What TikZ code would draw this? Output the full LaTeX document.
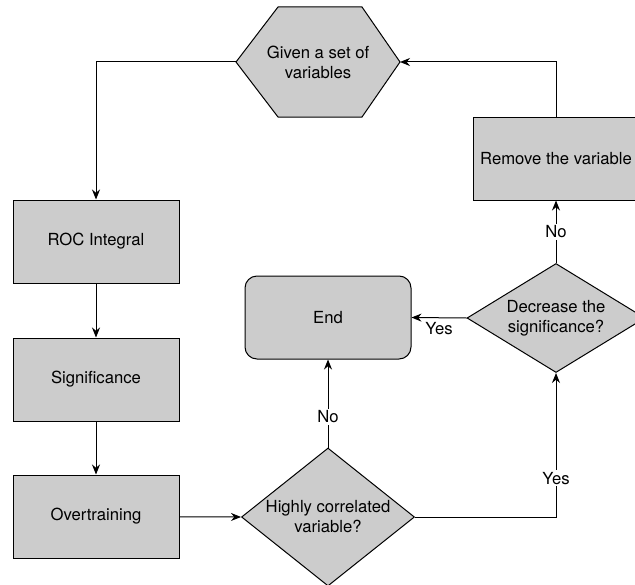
\documentclass[tikz,border=0pt]{standalone}
\usepackage{fontspec}
\setmainfont{TeX Gyre Heros}
\usetikzlibrary{shapes.geometric,arrows.meta}
\definecolor{boxgray}{HTML}{CCCCCC}

\begin{document}
\begin{tikzpicture}[
    x=0.75pt, y=-0.75pt,
    every node/.style={font=\fontsize{12.5}{15}\selectfont},
    box/.style={draw, fill=boxgray, line width=0.75pt, minimum width=124.5pt, minimum height=62.25pt, align=center},
    endbox/.style={box, rounded corners=9pt},
    decision/.style={draw, fill=boxgray, line width=0.75pt, diamond, inner sep=0pt, align=center},
    arrow/.style={-{Stealth[length=7.5pt, width=6pt]}, line width=0.75pt},
    tag/.style={fill=white, inner sep=1.5pt}
]
    \useasboundingbox (0,0) rectangle (635,585);

    % Start (hexagon)
    \draw[fill=boxgray, line width=0.75pt] (236,62) coordinate (given-w) -- (278,7) -- (362,7)
        -- (400,62) coordinate (given-e) -- (362,117) -- (278,117) -- cycle;
    \node[align=center] (given) at (318,62) {Given a set of\\variables};

    % Left column
    \node[box] (roc) at (96,241.5) {ROC Integral};
    \node[box] (signif) at (96,379.5) {Significance};
    \node[box] (overtr) at (96,516.5) {Overtraining};

    % Right side
    \node[box] (remove) at (556,158.5) {Remove the variable};
    \node[endbox] (end) at (328,317.5) {End};
    \node[decision, aspect=1.6, minimum width=133.5pt, minimum height=81.75pt] (decrease) at (556,318) {Decrease the\\significance?};
    \node[decision, aspect=1.25, minimum width=129.75pt, minimum height=103.5pt] (correl) at (328,517) {Highly correlated\\variable?};

    % Arrows
    \draw[arrow] (given-w) -| (roc.north);
    \draw[arrow] (roc) -- (signif);
    \draw[arrow] (signif) -- (overtr);
    \draw[arrow] (overtr) -- (correl.west);
    \draw[arrow] (correl.north) -- node[tag, pos=0.35] {No} (end.south);
    \draw[arrow] (correl.east) -| node[tag, pos=0.635] {Yes} (decrease.south);
    \draw[arrow] (decrease.west) -- node[midway, below] {Yes} (end.east);
    \draw[arrow] (decrease.north) -- node[tag, midway] {No} (remove.south);
    \draw[arrow] (remove.north) |- (given-e);
\end{tikzpicture}
\end{document}
